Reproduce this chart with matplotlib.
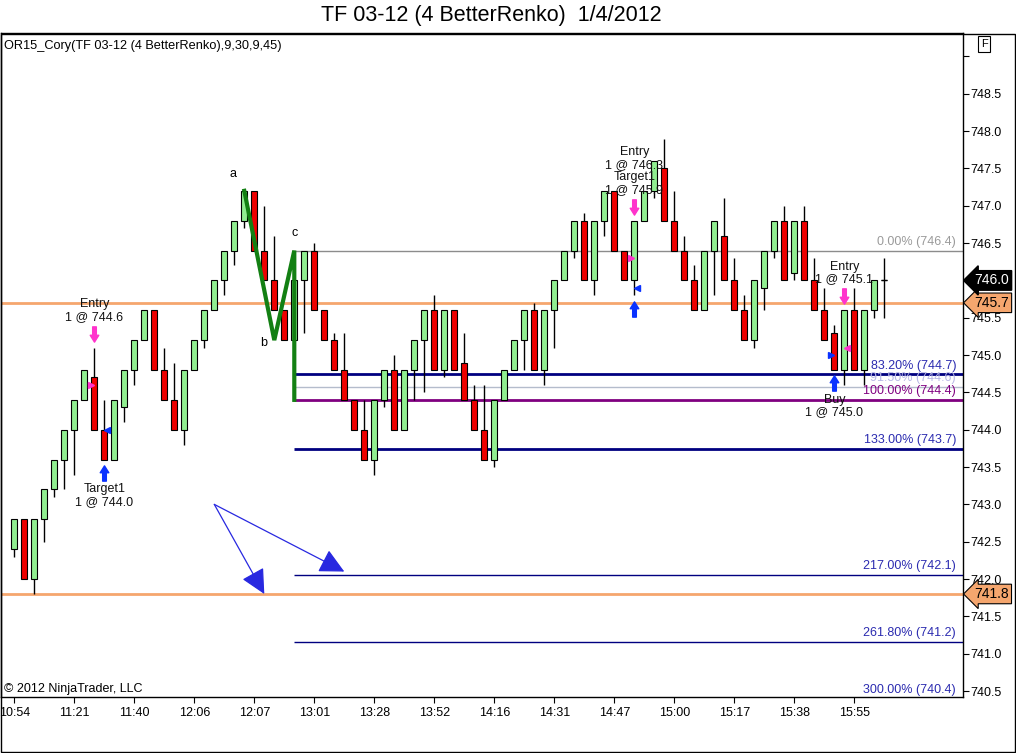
import matplotlib.pyplot as plt
import numpy as np
from matplotlib.path import Path
from matplotlib.patches import Rectangle
from matplotlib.transforms import offset_copy

plt.rcParams['font.family'] = ['Liberation Sans', 'DejaVu Sans']

W, H = 1016, 753

# renko bars (open, high, low, close)
opens = [742.4, 742.8, 742.0, 742.8, 743.2, 743.6, 744.0, 744.4, 744.7, 744.0,
         743.6, 744.3, 744.8, 745.2, 745.6, 744.8, 744.4, 744.0, 744.8, 745.2,
         745.6, 746.0, 746.4, 746.8, 747.2, 746.4, 746.0, 745.6, 745.2, 746.0,
         746.4, 745.6, 745.2, 744.8, 744.4, 744.0, 743.6, 744.4, 744.8, 744.0,
         744.8, 745.2, 745.6, 744.8, 745.6, 744.9, 744.4, 744.0, 743.6, 744.4,
         744.8, 745.2, 745.6, 744.8, 745.6, 746.0, 746.4, 746.8, 746.0, 746.8,
         747.2, 746.4, 746.0, 746.8, 747.2, 747.5, 746.8, 746.4, 746.0, 745.6,
         746.4, 746.6, 746.0, 745.6, 745.2, 745.9, 746.4, 746.8, 746.1, 746.8,
         746.0, 745.6, 745.3, 744.8, 745.6, 744.8, 745.6, 746.0]
highs = [742.8, 742.8, 742.8, 743.2, 743.6, 744.0, 744.4, 744.8, 745.1, 744.4,
         744.4, 744.8, 745.2, 745.6, 745.6, 745.1, 744.9, 744.8, 745.2, 745.6,
         746.0, 746.4, 746.8, 747.2, 747.2, 747.0, 746.6, 745.6, 746.0, 746.4,
         746.5, 745.6, 745.3, 745.3, 744.4, 744.4, 744.4, 744.8, 745.0, 744.8,
         745.2, 745.6, 745.8, 745.6, 745.6, 745.3, 744.6, 744.6, 744.4, 744.8,
         745.2, 745.6, 745.7, 745.6, 746.0, 746.4, 746.8, 746.9, 746.8, 747.2,
         747.2, 746.4, 746.8, 747.2, 747.6, 747.9, 747.2, 746.6, 746.2, 746.4,
         746.8, 747.1, 746.3, 745.8, 746.0, 746.4, 746.8, 747.0, 746.8, 747.0,
         746.3, 745.9, 745.4, 745.6, 745.9, 745.6, 746.0, 746.3]
lows = [742.3, 742.0, 741.8, 742.5, 743.1, 743.2, 743.4, 744.4, 744.0, 743.6,
        743.6, 744.1, 744.6, 745.2, 744.8, 744.4, 744.0, 743.8, 744.8, 745.1,
        745.6, 745.8, 746.2, 746.7, 746.4, 746.0, 745.6, 745.2, 745.2, 745.3,
        745.6, 745.2, 744.8, 744.4, 744.0, 743.6, 743.4, 744.3, 744.0, 744.0,
        744.4, 744.5, 744.8, 744.7, 744.8, 744.4, 744.0, 743.6, 743.5, 744.4,
        744.8, 744.8, 744.8, 744.6, 745.1, 746.0, 746.3, 746.0, 745.8, 746.6,
        746.4, 746.0, 745.8, 746.8, 747.1, 746.8, 746.4, 746.0, 745.6, 745.6,
        745.8, 746.0, 745.6, 745.2, 745.1, 745.6, 746.3, 746.0, 746.0, 746.0,
        745.6, 745.2, 744.8, 744.6, 744.8, 744.6, 745.5, 745.5]
closes = [742.8, 742.0, 742.8, 743.2, 743.6, 744.0, 744.4, 744.8, 744.0, 743.6,
          744.4, 744.8, 745.2, 745.6, 744.8, 744.4, 744.0, 744.8, 745.2, 745.6,
          746.0, 746.4, 746.8, 747.2, 746.4, 746.0, 745.6, 745.2, 746.0, 746.4,
          745.6, 745.2, 744.8, 744.4, 744.0, 743.6, 744.4, 744.8, 744.0, 744.8,
          745.2, 745.6, 744.8, 745.6, 744.8, 744.4, 744.0, 743.6, 744.4, 744.8,
          745.2, 745.6, 744.8, 745.6, 746.0, 746.4, 746.8, 746.0, 746.8, 747.2,
          746.4, 746.0, 746.8, 747.2, 747.6, 746.8, 746.4, 746.0, 745.6, 746.4,
          746.8, 746.0, 745.6, 745.2, 746.0, 746.4, 746.8, 746.0, 746.8, 746.0,
          745.6, 745.2, 744.8, 745.6, 744.8, 745.6, 746.0, 746.0]

time_labels = ["10:54", "11:21", "11:40", "12:06", "12:07", "13:01", "13:28", "13:52",
               "14:16", "14:31", "14:47", "15:00", "15:17", "15:38", "15:55"]
label_every = 6

# horizontal price lines
level_prices = [745.7, 741.8]
last_price = 746.0

# a-b-c pattern and projections
abc_bars = [23, 26, 28]
abc_prices = [747.2, 745.2, 746.4]
abc_names = ["a", "b", "c"]
fib_labels = ["0.00%", "83.20%", "91.50%", "100.00%", "133.00%", "217.00%", "261.80%", "300.00%"]
fib_prices = [746.4, 744.74, 744.57, 744.4, 743.74, 742.06, 741.16, 740.4]
fib_colors = ["#8c8c8c", "#000080", "#b4bccc", "#800080", "#000080", "#000080", "#000080", "#000080"]
fib_text_colors = ["#9a9a9a", "#2b2bb0", "#b8b8e6", "#800080", "#2b2bb0", "#2b2bb0", "#2b2bb0", "#2b2bb0"]
fib_widths = [1, 2, 1, 2, 2, 1, 1, 1]

# drawn blue arrows
arrow_start = (20, 743.0)
arrow_tips = [(33, 742.1), (25, 741.8)]

# trades
entry_bars = [8, 62, 83]
entry_prices = [744.6, 746.3, 745.1]
entry_sides = [-1, -1, 1]
entry_texts = ["Entry\n1 @ 744.6", "Entry\n1 @ 746.3\nTarget1\n1 @ 745.9", "Entry\n1 @ 745.1"]
exit_bars = [9, 62, 82]
exit_prices = [744.0, 745.9, 745.0]
exit_sides = [1, 1, -1]
exit_texts = ["Target1\n1 @ 744.0", "", "Buy\n1 @ 745.0"]

PINK = "#ff33cc"
BLUE = "#0a32ff"
FS = 9

fig = plt.figure(figsize=(W / 100, H / 100), dpi=100)
ax = fig.add_axes([1 / W, 1 - 697 / H, 962 / W, (697 - 33.3) / H])
ax.set_xlim(-1.33, 94.87)
ax.set_ylim(740.42, 749.31)

x = np.arange(len(opens))
o = np.array(opens)
c = np.array(closes)
up = c >= o
body_lo = np.minimum(o, c)
body_h = np.abs(c - o)

ax.vlines(x, lows, highs, color="black", lw=1, zorder=2)
ax.bar(x, body_h, bottom=body_lo, width=0.62,
       color=np.where(up, "#90ee90", "#ee0000"), edgecolor="black", lw=0.8, zorder=3)
doji = body_h == 0
ax.hlines(o[doji], x[doji] - 0.3, x[doji] + 0.3, color="black", lw=1, zorder=3)

for p in level_prices:
    ax.axhline(p, color="#f5a66e", lw=2, zorder=1)

# fib projection lines
for lab, p, col, tcol, lw in zip(fib_labels, fib_prices, fib_colors, fib_text_colors, fib_widths):
    ax.hlines(p, abc_bars[2], 200, color=col, lw=lw, zorder=1)
    ax.annotate(f"{lab} ({p:.1f})", xy=(1, p), xycoords=ax.get_yaxis_transform(),
                xytext=(-5, 2), textcoords="offset points", ha="right", va="bottom",
                color=tcol, fontsize=FS, annotation_clip=False, zorder=4)

# abc line
ax.plot(abc_bars + [abc_bars[2]], abc_prices + [fib_prices[3]], color="#138013", lw=3,
        solid_joinstyle="miter", zorder=5)
name_offsets = [(-8, 8), (-8, -2), (0, 8)]
for b, p, n, off in zip(abc_bars, abc_prices, abc_names, name_offsets):
    ax.annotate(n, xy=(b, p), xytext=off, textcoords="offset points",
                ha="center", va="bottom" if off[1] > 0 else "center", fontsize=FS)

for tip in arrow_tips:
    ax.annotate("", xy=tip, xytext=arrow_start,
                arrowprops=dict(arrowstyle="-|>,head_length=0.9,head_width=0.45",
                                color="#2828e0", lw=0.9, mutation_scale=17,
                                shrinkA=0, shrinkB=0))

# trade markers
up_arrow = Path([(-0.12, -0.5), (0.12, -0.5), (0.12, 0.05), (0.28, 0.05), (0, 0.5),
                 (-0.28, 0.05), (-0.12, 0.05), (-0.12, -0.5)], closed=True)
down_arrow = Path(up_arrow.vertices * [1, -1], closed=True)
above = offset_copy(ax.transData, fig=fig, x=0, y=10, units="points")
below = offset_copy(ax.transData, fig=fig, x=0, y=-9.5, units="points")

for b, p, s, t in zip(entry_bars, entry_prices, entry_sides, entry_texts):
    ax.plot(b, highs[b], marker=down_arrow, ms=11, color=PINK, mec=PINK, transform=above, zorder=6)
    tr = offset_copy(ax.transData, fig=fig, x=2.3 * s, y=0, units="points")
    ax.plot(b, p, marker=">" if s < 0 else "<", ms=4.5, color=PINK, transform=tr, zorder=6)
    ax.annotate(t, xy=(b, highs[b]), xytext=(0, 18), textcoords="offset points",
                ha="center", va="bottom", fontsize=FS, color="#111111", linespacing=1.05, zorder=7)

for b, p, s, t in zip(exit_bars, exit_prices, exit_sides, exit_texts):
    ax.plot(b, lows[b], marker=up_arrow, ms=11, color=BLUE, mec=BLUE, transform=below, zorder=6)
    tr = offset_copy(ax.transData, fig=fig, x=2.3 * s, y=0, units="points")
    ax.plot(b, p, marker=">" if s < 0 else "<", ms=4.5, color=BLUE, transform=tr, zorder=6)
    if t:
        ax.annotate(t, xy=(b, lows[b]), xytext=(0, -17), textcoords="offset points",
                    ha="center", va="top", fontsize=FS, color="#111111", linespacing=1.05, zorder=7)

# axes
ax.yaxis.tick_right()
yt = np.arange(740.5, 749.01, 0.5)
ax.set_yticks(yt)
# the last-price tag covers its own tick label, as in the original
ax.set_yticklabels(["" if v > 748.9 or abs(v - last_price) < 0.01 else f"{v:.1f}" for v in yt])
ax.tick_params(axis="y", direction="out", length=4, pad=1, labelsize=FS)
ax.set_xticks(np.arange(len(time_labels)) * label_every)
ax.set_xticklabels(time_labels)
ax.tick_params(axis="x", direction="out", length=4, pad=3, labelsize=FS)
for sp in ax.spines.values():
    sp.set_linewidth(1)

# price tags on the right axis
tag_tr = ax.get_yaxis_transform()
for p in level_prices:
    ax.annotate(f"{p:.1f}", xy=(1, p), xycoords=tag_tr, xytext=(8, 0), textcoords="offset points",
                ha="left", va="center", fontsize=FS + 1, annotation_clip=False, zorder=8,
                bbox=dict(boxstyle="larrow,pad=0.2", fc="#f5a66e", ec="black", lw=0.8))
ax.annotate(f"{last_price:.1f}", xy=(1, last_price), xycoords=tag_tr, xytext=(8, 0),
            textcoords="offset points", ha="left", va="center", fontsize=FS + 1, color="white",
            annotation_clip=False, zorder=8,
            bbox=dict(boxstyle="larrow,pad=0.2", fc="black", ec="black"))

# texts and frame
fig.text(491 / W, 1 - 16 / H, "TF 03-12 (4 BetterRenko)  1/4/2012", ha="center", va="center", fontsize=15.5)
fig.text(4 / W, 1 - 46 / H, "OR15_Cory(TF 03-12 (4 BetterRenko),9,30,9,45)", ha="left", va="center", fontsize=9.2)
fig.text(4 / W, 1 - 689 / H, "\u00a9 2012 NinjaTrader, LLC", ha="left", va="center", fontsize=FS)
fig.text(984 / W, 1 - 44 / H, "F", ha="center", va="center", fontsize=8,
         bbox=dict(boxstyle="square,pad=0.25", fc="white", ec="black", lw=0.8))
fig.add_artist(Rectangle((0.5 / W, 1.5 / H), (W - 1.5) / W, (752 - 33.3 - 1) / H,
                         transform=fig.transFigure, fill=False, ec="black", lw=1))

fig.savefig("out.png", dpi=100)
